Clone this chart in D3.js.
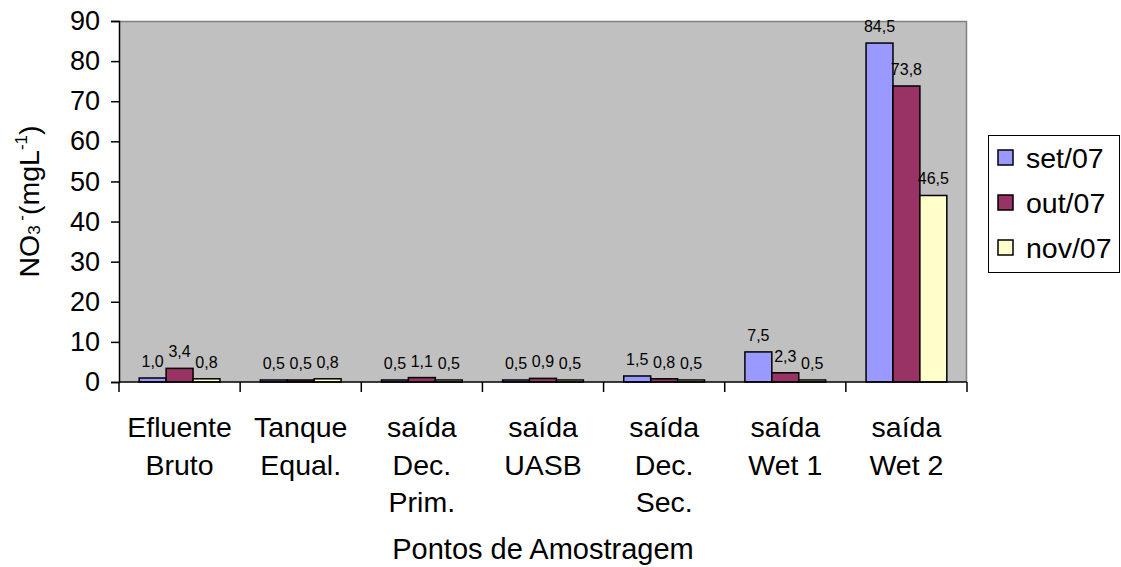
<!DOCTYPE html>
<html>
<head>
<meta charset="utf-8">
<script src="https://cdn.jsdelivr.net/npm/d3@7"></script>
<style>
  html, body { margin: 0; padding: 0; background: #fff; }
  svg text { font-family: "Liberation Sans", Arial, sans-serif; fill: #000; }
</style>
</head>
<body>
<svg id="chart" width="1121" height="567"></svg>
<script>
// Sampling points along the treatment plant
const categories = [
  ["Efluente", "Bruto"],
  ["Tanque", "Equal."],
  ["saída", "Dec.", "Prim."],
  ["saída", "UASB"],
  ["saída", "Dec.", "Sec."],
  ["saída", "Wet 1"],
  ["saída", "Wet 2"]
];
const seriesNames = ["set/07", "out/07", "nov/07"];
const setValues = [1.0, 0.5, 0.5, 0.5, 1.5, 7.5, 84.5];
const outValues = [3.4, 0.5, 1.1, 0.9, 0.8, 2.3, 73.8];
const novValues = [0.8, 0.8, 0.5, 0.5, 0.5, 0.5, 46.5];
const yTicks = [0, 10, 20, 30, 40, 50, 60, 70, 80, 90];
const seriesColors = ["#9999FF", "#993366", "#FFFFCC"];

const seriesValues = [setValues, outValues, novValues];

const svg = d3.select("#chart");
const plot = { left: 119, right: 967, top: 21, bottom: 382 };

const x0 = d3.scaleBand()
  .domain(d3.range(categories.length))
  .range([plot.left, plot.right])
  .paddingInner(0).paddingOuter(0);

const x1 = d3.scaleBand()
  .domain(d3.range(seriesNames.length))
  .range([0, x0.bandwidth()])
  .paddingInner(0).paddingOuter(0.75);

const y = d3.scaleLinear().domain([0, 90]).range([plot.bottom, plot.top]);

// Plot area background
svg.append("rect")
  .attr("x", plot.left).attr("y", plot.top)
  .attr("width", plot.right - plot.left).attr("height", plot.bottom - plot.top)
  .attr("fill", "#C0C0C0");
svg.append("path")
  .attr("d", `M${plot.left},${plot.top + 0.5}H${plot.right - 0.5}V${plot.bottom}`)
  .attr("fill", "none").attr("stroke", "#808080").attr("stroke-width", 1.5);

// Bars
const fmt = v => d3.format(".1f")(v).replace(".", ",");
const groups = svg.append("g").selectAll("g")
  .data(categories.map((c, i) => i))
  .join("g")
  .attr("transform", i => `translate(${x0(i)},0)`);

groups.selectAll("rect")
  .data(i => seriesValues.map((vals, s) => ({ s, v: vals[i] })))
  .join("rect")
  .attr("x", d => x1(d.s))
  .attr("y", d => y(d.v))
  .attr("width", x1.bandwidth())
  .attr("height", d => y(0) - y(d.v))
  .attr("fill", d => seriesColors[d.s])
  .attr("stroke", "#000").attr("stroke-width", 1.5);

groups.selectAll("text")
  .data(i => seriesValues.map((vals, s) => ({ s, v: vals[i] })))
  .join("text")
  .attr("x", d => x1(d.s) + x1.bandwidth() / 2)
  .attr("y", d => y(d.v) - 11)
  .attr("text-anchor", "middle")
  .style("font-size", "16px")
  .text(d => fmt(d.v));

// Y axis
const yAxis = svg.append("g")
  .attr("transform", `translate(${plot.left},0)`)
  .call(d3.axisLeft(y).tickValues(yTicks).tickSize(8).tickPadding(11).tickFormat(d3.format("d")));
yAxis.select(".domain").attr("stroke", "#000").attr("stroke-width", 1.5);
yAxis.selectAll(".tick line").attr("stroke", "#000").attr("stroke-width", 1.5);
yAxis.selectAll(".tick text").style("font-size", "27px").attr("font-family", null);

// X axis line and category separators
svg.append("line")
  .attr("x1", plot.left).attr("x2", plot.right)
  .attr("y1", plot.bottom).attr("y2", plot.bottom)
  .attr("stroke", "#000").attr("stroke-width", 1.5);
const boundaries = d3.range(categories.length + 1).map(i =>
  i < categories.length ? x0(i) : x0(categories.length - 1) + x0.bandwidth());
svg.append("g").selectAll("line")
  .data(boundaries)
  .join("line")
  .attr("x1", d => d).attr("x2", d => d)
  .attr("y1", plot.bottom).attr("y2", plot.bottom + 10)
  .attr("stroke", "#000").attr("stroke-width", 1.5);

// Category labels
const catLabels = svg.append("g").selectAll("text")
  .data(categories.map((lines, i) => ({ lines, i })))
  .join("text")
  .attr("text-anchor", "middle")
  .style("font-size", "28.5px");
catLabels.selectAll("tspan")
  .data(d => d.lines.map((t, k) => ({ t, k, i: d.i })))
  .join("tspan")
  .attr("x", d => x0(d.i) + x0.bandwidth() / 2)
  .attr("y", d => 437 + d.k * 37.5)
  .text(d => d.t);

// X axis title
svg.append("text")
  .attr("x", (plot.left + plot.right) / 2)
  .attr("y", 559)
  .attr("text-anchor", "middle")
  .style("font-size", "29px")
  .text("Pontos de Amostragem");

// Y axis title
const yTitle = svg.append("text")
  .attr("transform", `translate(39,${(plot.top + plot.bottom) / 2}) rotate(-90)`)
  .attr("text-anchor", "middle")
  .style("font-size", "28.5px");
yTitle.append("tspan").text("NO");
yTitle.append("tspan").style("font-size", "17px").attr("dy", 1).text("3");
yTitle.append("tspan").style("font-size", "17px").attr("dy", -13).text(" -");
yTitle.append("tspan").attr("dy", 12).text("(mgL");
yTitle.append("tspan").style("font-size", "17px").attr("dy", -12).text("-1");
yTitle.append("tspan").attr("dy", 12).text(")");

// Legend
const legend = svg.append("g");
legend.append("rect")
  .attr("x", 988.5).attr("y", 135.5).attr("width", 131).attr("height", 137)
  .attr("fill", "#fff").attr("stroke", "#000").attr("stroke-width", 1);
const items = legend.selectAll("g.item")
  .data(seriesNames.map((name, s) => ({ name, s })))
  .join("g")
  .attr("class", "item")
  .attr("transform", d => `translate(998,${150 + d.s * 45})`);
items.append("rect")
  .attr("width", 15).attr("height", 15)
  .attr("fill", d => seriesColors[d.s])
  .attr("stroke", "#000").attr("stroke-width", 1.5);
items.append("text")
  .attr("x", 28).attr("y", 18)
  .style("font-size", "28.5px")
  .text(d => d.name);
</script>
</body>
</html>
